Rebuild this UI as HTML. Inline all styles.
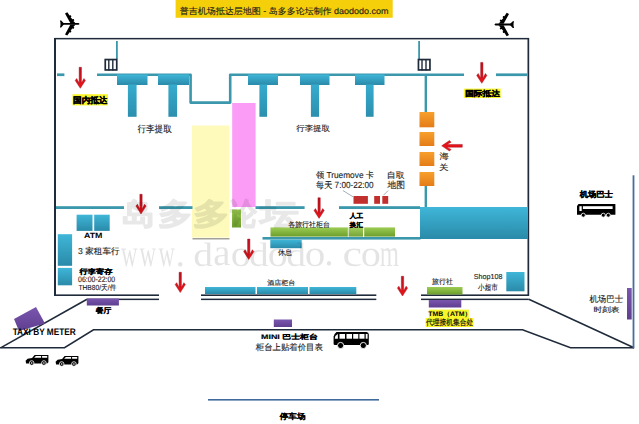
<!DOCTYPE html>
<html><head><meta charset="utf-8"><style>
html,body{margin:0;padding:0;background:#fff;width:639px;height:424px;overflow:hidden}
svg{display:block;font-family:"Liberation Sans",sans-serif;text-rendering:geometricPrecision}
</style></head><body>
<svg width="639" height="424" viewBox="0 0 639 424">
<rect width="639" height="424" fill="#fff"/>
<defs>
<linearGradient id="tealg" x1="0" y1="0" x2="0" y2="1"><stop offset="0" stop-color="#3fb6d8"/><stop offset="1" stop-color="#2a8aa9"/></linearGradient>
<linearGradient id="tealgv" x1="0" y1="0" x2="0" y2="1"><stop offset="0" stop-color="#36acce"/><stop offset="1" stop-color="#2c8fae"/></linearGradient>
<linearGradient id="greeng" x1="0" y1="0" x2="0" y2="1"><stop offset="0" stop-color="#9ccc52"/><stop offset="1" stop-color="#6c9e2c"/></linearGradient>
<linearGradient id="orangeg" x1="0" y1="0" x2="0" y2="1"><stop offset="0" stop-color="#f7a02c"/><stop offset="1" stop-color="#e47c18"/></linearGradient>
<linearGradient id="purpleg" x1="0" y1="0" x2="0" y2="1"><stop offset="0" stop-color="#7a56ae"/><stop offset="1" stop-color="#5f3f90"/></linearGradient>
<linearGradient id="redg" x1="0" y1="0" x2="0" y2="1"><stop offset="0" stop-color="#b81020"/><stop offset="1" stop-color="#ec1418"/></linearGradient>
<filter id="soft" x="-10%" y="-30%" width="120%" height="160%"><feGaussianBlur stdDeviation="0.4"/></filter>
</defs>
<rect x="192" y="125.5" width="37.4" height="112" fill="#fdfabb"/>
<rect x="192.5" y="238.2" width="37" height="1.2" fill="#8a8a80"/>
<rect x="232.2" y="103" width="23.4" height="104" fill="#fb9cf6"/>
<rect x="232" y="209.5" width="9" height="18" fill="url(#greeng)"/>
<rect x="54.3" y="37.9" width="474.7" height="1.5" fill="#1f2b3a"/>
<rect x="54" y="38" width="2" height="258" fill="#1f2b3a"/>
<rect x="527.5" y="38" width="1.7" height="258" fill="#1f2b3a"/>
<rect x="54" y="294.4" width="105" height="1.6" fill="#1f2b3a"/>
<rect x="201" y="294.4" width="175.3" height="1.6" fill="#1f2b3a"/>
<rect x="421" y="294.4" width="108" height="1.6" fill="#1f2b3a"/>
<rect x="87" y="298.6" width="72" height="1.5" fill="#1f2b3a"/>
<rect x="201" y="298.6" width="175.3" height="1.5" fill="#1f2b3a"/>
<rect x="421" y="298.6" width="107.79999999999995" height="1.5" fill="#1f2b3a"/>
<polyline points="1,347.6 87,299.3" stroke="#1f2b3a" stroke-width="1.6" fill="none"/>
<polyline points="528.8,299.3 634,347.8" stroke="#1f2b3a" stroke-width="1.6" fill="none"/>
<polyline points="0,347.7 64.5,347.7 93.5,329.7 522.5,329.7 570.5,347.8 634,347.8" stroke="#1f2b3a" stroke-width="1.6" fill="none"/>
<rect x="632.6" y="175.3" width="1.8" height="173" fill="#4a6b9c"/>
<rect x="208" y="399" width="171" height="1.6" fill="#3f6b9c"/>
<rect x="57" y="73.4" width="7.4" height="2.7" fill="#3b98ac"/>
<polyline points="97,74.7 190.6,74.7 190.6,102.6 230.2,102.6 230.2,74.7 464,74.7" stroke="#3b98ac" stroke-width="2.6" fill="none" stroke-linejoin="round"/>
<rect x="496" y="73.4" width="31.5" height="2.7" fill="#3b98ac"/>
<rect x="116" y="41" width="1.8" height="18" fill="#3b98ac"/>
<rect x="418.2" y="41" width="1.8" height="18" fill="#3b98ac"/>
<rect x="424.6" y="76" width="2.4" height="36" fill="#3b98ac"/>
<rect x="424.6" y="186" width="2.4" height="21" fill="#3b98ac"/>
<rect x="56" y="206.2" width="68" height="2.8" fill="#3b98ac"/>
<rect x="159" y="206.2" width="33.5" height="2.8" fill="#3b98ac"/>
<rect x="255.5" y="206.2" width="49.10000000000002" height="2.8" fill="#3b98ac"/>
<rect x="339" y="206.2" width="81" height="2.8" fill="#3b98ac"/>
<rect x="262.5" y="237" width="158" height="2.6" fill="#3b98ac"/>
<rect x="117" y="74.5" width="30.5" height="10.5" fill="url(#tealg)"/><rect x="127.9" y="84.5" width="8.7" height="32.3" fill="url(#tealgv)"/>
<rect x="158" y="74.5" width="31" height="10.5" fill="url(#tealg)"/><rect x="168.4" y="84.5" width="8.7" height="32.3" fill="url(#tealgv)"/>
<rect x="248" y="74.5" width="30" height="10.5" fill="url(#tealg)"/><rect x="259.4" y="84.5" width="7.7" height="32.3" fill="url(#tealgv)"/>
<rect x="300" y="74.5" width="29.5" height="10.5" fill="url(#tealg)"/><rect x="310.9" y="84.5" width="8.2" height="32.3" fill="url(#tealgv)"/>
<rect x="355" y="74.5" width="29.5" height="10.5" fill="url(#tealg)"/><rect x="365.9" y="84.5" width="7.7" height="32.3" fill="url(#tealgv)"/>
<rect x="105.25" y="59.55" width="11.5" height="10.4" fill="none" stroke="#1e2a3a" stroke-width="1.7"/>
<rect x="108.10000000000001" y="59" width="1.4" height="11.5" fill="#1e2a3a"/>
<rect x="112.10000000000001" y="59" width="1.4" height="11.5" fill="#1e2a3a"/>
<rect x="418.45000000000005" y="59.55" width="11.5" height="10.4" fill="none" stroke="#1e2a3a" stroke-width="1.7"/>
<rect x="421.3" y="59" width="1.4" height="11.5" fill="#1e2a3a"/>
<rect x="425.3" y="59" width="1.4" height="11.5" fill="#1e2a3a"/>
<rect x="419.5" y="112" width="14.8" height="15.299999999999997" fill="url(#orangeg)"/>
<rect x="419.5" y="132" width="14.8" height="14" fill="url(#orangeg)"/>
<rect x="419.5" y="152" width="14.8" height="14" fill="url(#orangeg)"/>
<rect x="419.5" y="172" width="14.8" height="14" fill="url(#orangeg)"/>
<rect x="420" y="207" width="108" height="32" fill="url(#tealg)"/>
<rect x="270.5" y="227.4" width="77.30000000000001" height="9.2" fill="url(#greeng)"/>
<rect x="348.6" y="227.4" width="14.399999999999977" height="9.2" fill="url(#greeng)"/>
<rect x="364.2" y="227.4" width="30.80000000000001" height="9.2" fill="url(#greeng)"/>
<rect x="348.6" y="227.4" width="14.4" height="9.2" fill="#fff" opacity="0.06"/>
<rect x="270.3" y="239.7" width="31.4" height="8.5" fill="url(#tealg)"/>
<rect x="76.6" y="214.7" width="15.9" height="16.2" fill="url(#tealg)"/>
<rect x="94.2" y="214.7" width="15.5" height="16.2" fill="url(#tealg)"/>
<rect x="57.8" y="234.2" width="14.3" height="31.6" fill="url(#tealg)"/>
<rect x="57.8" y="267.9" width="14.3" height="17.4" fill="url(#tealg)"/>
<rect x="205" y="287" width="50.5" height="7" fill="url(#tealg)"/>
<rect x="257" y="287" width="51" height="7" fill="url(#tealg)"/>
<rect x="309.5" y="287" width="46.80000000000001" height="7" fill="url(#tealg)"/>
<rect x="427" y="287" width="35.5" height="7.5" fill="url(#greeng)"/>
<rect x="428.8" y="300" width="32.5" height="7.5" fill="url(#purpleg)"/>
<rect x="506.3" y="272" width="18.2" height="19.3" fill="url(#tealg)"/>
<rect x="86.8" y="298.5" width="32.1" height="7" fill="url(#purpleg)"/>
<rect x="273.8" y="319.5" width="18.2" height="7.5" fill="url(#purpleg)"/>
<rect x="627" y="288" width="4.7" height="31.5" fill="url(#purpleg)"/>
<polygon points="14,319 36,307 45,323.5 19,331" fill="url(#purpleg)"/>
<rect x="353.5" y="196" width="14.4" height="7.8" fill="#c2302e"/>
<rect x="374.2" y="196" width="5.8" height="7.8" fill="#c2302e"/>
<rect x="382.3" y="196" width="5.9" height="7.8" fill="#c2302e"/>
<line x1="342.9" y1="190.5" x2="353" y2="196.8" stroke="#8a9aa8" stroke-width="0.8"/>
<line x1="388.2" y1="190.5" x2="383.5" y2="195.2" stroke="#8a9aa8" stroke-width="0.8"/>
<g fill="#f8f42a" filter="url(#soft)">
<rect x="72.5" y="94.2" width="35.5" height="11.2"/>
<rect x="464.1" y="88.6" width="36.6" height="9.4"/>
<rect x="428.9" y="309.6" width="39.9" height="8.6"/>
<rect x="425.6" y="318" width="47.9" height="9"/>
</g>
<rect x="175.6" y="0" width="217.1" height="17.8" fill="#f5cf0a"/>
<path d="M79.15,67.30 L81.45,67.30 L81.45,83.00 L83.90,78.50 L85.40,80.40 L80.30,88.30 L75.20,80.40 L76.70,78.50 L79.15,83.00 Z" fill="url(#redg)" stroke="#a00e18" stroke-width="0.45"/>
<path d="M480.65,62.40 L482.95,62.40 L482.95,78.00 L485.40,73.50 L486.90,75.40 L481.80,83.30 L476.70,75.40 L478.20,73.50 L480.65,78.00 Z" fill="url(#redg)" stroke="#a00e18" stroke-width="0.45"/>
<path d="M139.85,194.30 L142.15,194.30 L142.15,208.70 L144.60,204.20 L146.10,206.10 L141.00,214.00 L135.90,206.10 L137.40,204.20 L139.85,208.70 Z" fill="url(#redg)" stroke="#a00e18" stroke-width="0.45"/>
<path d="M317.95,197.80 L320.25,197.80 L320.25,213.10 L322.70,208.60 L324.20,210.50 L319.10,218.40 L314.00,210.50 L315.50,208.60 L317.95,213.10 Z" fill="url(#redg)" stroke="#a00e18" stroke-width="0.45"/>
<path d="M247.60,239.05 L249.90,239.05 L249.90,254.20 L252.35,249.70 L253.85,251.60 L248.75,259.50 L243.65,251.60 L245.15,249.70 L247.60,254.20 Z" fill="url(#redg)" stroke="#a00e18" stroke-width="0.45"/>
<path d="M179.10,272.30 L181.40,272.30 L181.40,287.20 L183.85,282.70 L185.35,284.60 L180.25,292.50 L175.15,284.60 L176.65,282.70 L179.10,287.20 Z" fill="url(#redg)" stroke="#a00e18" stroke-width="0.45"/>
<path d="M401.35,276.30 L403.65,276.30 L403.65,290.70 L406.10,286.20 L407.60,288.10 L402.50,296.00 L397.40,288.10 L398.90,286.20 L401.35,290.70 Z" fill="url(#redg)" stroke="#a00e18" stroke-width="0.45"/>
<path d="M462.30,144.45 L462.30,147.15 L446.70,147.15 L451.10,149.40 L449.50,151.10 L441.70,145.80 L449.50,140.50 L451.10,142.20 L446.70,144.45 Z" fill="#e8121a" stroke="#a00e18" stroke-width="0.45"/>
<g fill="#000"><path d="M60.6,23.0 L78.6,23.0 L79.6,23.9 L78.6,24.8 L60.6,24.8 Z"/><path d="M59.9,20.6 L61.2,20.6 L63.8,23.2 L63.8,24.6 L61.2,27.4 L59.9,27.4 L60.8,23.9 Z"/><path d="M65.0,13.4 L67.3,12.2 L69.6,15.6 L70.9,15.3 L71.4,16.8 L70.6,17.3 L72.4,19.3 L73.8,19.0 L74.3,20.5 L73.4,20.9 L75.6,23.2 L70.4,23.2 Z"/><path d="M65.0,34.4 L67.3,35.6 L69.6,32.2 L70.9,32.5 L71.4,31.0 L70.6,30.5 L72.4,28.5 L73.8,28.8 L74.3,27.3 L73.4,26.9 L75.6,24.6 L70.4,24.6 Z"/></g>
<g transform="translate(574,0.6) scale(-1,1)"><g fill="#000"><path d="M60.6,23.0 L78.6,23.0 L79.6,23.9 L78.6,24.8 L60.6,24.8 Z"/><path d="M59.9,20.6 L61.2,20.6 L63.8,23.2 L63.8,24.6 L61.2,27.4 L59.9,27.4 L60.8,23.9 Z"/><path d="M65.0,13.4 L67.3,12.2 L69.6,15.6 L70.9,15.3 L71.4,16.8 L70.6,17.3 L72.4,19.3 L73.8,19.0 L74.3,20.5 L73.4,20.9 L75.6,23.2 L70.4,23.2 Z"/><path d="M65.0,34.4 L67.3,35.6 L69.6,32.2 L70.9,32.5 L71.4,31.0 L70.6,30.5 L72.4,28.5 L73.8,28.8 L74.3,27.3 L73.4,26.9 L75.6,24.6 L70.4,24.6 Z"/></g></g>
<g transform="translate(25.6,354.7)"><path d="M0,6 L2,4 L6.5,3.2 L9,0.4 L22.8,0.4 L22.8,7.5 L21.5,8.8 L0.5,8.8 Z" fill="#000"/><path d="M8.5,3 L10.3,1.4 L15.5,1.4 L15.5,3 Z M16.5,1.4 L21.6,1.4 L21.6,3 L16.5,3 Z" fill="#fff"/><circle cx="6.1" cy="8.3" r="2.3" fill="#000" stroke="#fff" stroke-width="0.8"/><circle cx="18.3" cy="8.3" r="2.3" fill="#000" stroke="#fff" stroke-width="0.8"/><circle cx="6.1" cy="8.3" r="0.8" fill="#fff"/><circle cx="18.3" cy="8.3" r="0.8" fill="#fff"/></g>
<g transform="translate(55.6,355.7)"><path d="M0,6 L2,4 L6.5,3.2 L9,0.4 L22.8,0.4 L22.8,7.5 L21.5,8.8 L0.5,8.8 Z" fill="#000"/><path d="M8.5,3 L10.3,1.4 L15.5,1.4 L15.5,3 Z M16.5,1.4 L21.6,1.4 L21.6,3 L16.5,3 Z" fill="#fff"/><circle cx="6.1" cy="8.3" r="2.3" fill="#000" stroke="#fff" stroke-width="0.8"/><circle cx="18.3" cy="8.3" r="2.3" fill="#000" stroke="#fff" stroke-width="0.8"/><circle cx="6.1" cy="8.3" r="0.8" fill="#fff"/><circle cx="18.3" cy="8.3" r="0.8" fill="#fff"/></g>
<g><path d="M336.5,332 L366.5,332 Q368.8,332 368.8,334.5 L368.8,344 Q368.8,345 367.5,345 L334.8,345 Q333.6,345 333.6,343.5 L333.6,336.5 Q334,334 336.5,332 Z" fill="#000"/><path d="M334.8,338.7 L335.3,336 L337.9,334 L337.9,338.7 Z" fill="#fff"/><rect x="339.5" y="334" width="5.5" height="4.7" fill="#fff"/><rect x="346.5" y="334" width="5.5" height="4.7" fill="#fff"/><rect x="353.2" y="334" width="5.1" height="4.7" fill="#fff"/><rect x="359.4" y="334" width="5.1" height="4.7" fill="#fff"/><rect x="365.7" y="334" width="1.9" height="4.7" fill="#fff"/><circle cx="340.6" cy="345.5" r="3.1" fill="#000" stroke="#fff" stroke-width="0.9"/><circle cx="363.3" cy="345.5" r="3.1" fill="#000" stroke="#fff" stroke-width="0.9"/></g>
<g><path d="M578.5,203.9 L615.4,203.9 L615.4,214.8 L577,214.8 L577,206 Z" fill="#000"/><rect x="582.9" y="206.2" width="29.7" height="2.8" fill="#fff"/><rect x="579.4" y="206.2" width="2.3" height="4.8" fill="#fff"/><circle cx="583.3" cy="215.2" r="2" fill="#000" stroke="#fff" stroke-width="0.8"/><circle cx="603.3" cy="215.2" r="2" fill="#000" stroke="#fff" stroke-width="0.8"/><circle cx="608.3" cy="215.2" r="2" fill="#000" stroke="#fff" stroke-width="0.8"/></g>
<g font-family="Liberation Sans, sans-serif"><text id="title" x="179.76" y="13.98" font-size="8.73" font-weight="normal" fill="#1c1c1c" stroke="#1c1c1c" stroke-width="0.12" textLength="208.86" lengthAdjust="spacingAndGlyphs">普吉机场抵达层地图 - 岛多多论坛制作 daododo.com</text>
<text id="gn" x="73.13" y="102.89" font-size="8.41" font-weight="bold" fill="#000" stroke="#000" stroke-width="0.3" textLength="34.27" lengthAdjust="spacingAndGlyphs">国内抵达</text>
<text id="gj" x="465.15" y="95.93" font-size="7.57" font-weight="bold" fill="#000" stroke="#000" stroke-width="0.3" textLength="34.76" lengthAdjust="spacingAndGlyphs">国际抵达</text>
<text id="xl1" x="137.38" y="131.55" font-size="9.26" font-weight="normal" fill="#1c1c1c" stroke="#1c1c1c" stroke-width="0.12" textLength="34.46" lengthAdjust="spacingAndGlyphs">行李提取</text>
<text id="xl2" x="296.20" y="130.72" font-size="7.74" font-weight="normal" fill="#1c1c1c" stroke="#1c1c1c" stroke-width="0.12" textLength="33.80" lengthAdjust="spacingAndGlyphs">行李提取</text>
<text id="hai" x="439.53" y="158.83" font-size="8.41" font-weight="normal" fill="#1c1c1c" stroke="#1c1c1c" stroke-width="0.12" textLength="9.36" lengthAdjust="spacingAndGlyphs">海</text>
<text id="guan" x="439.03" y="170.18" font-size="7.81" font-weight="normal" fill="#1c1c1c" stroke="#1c1c1c" stroke-width="0.12" textLength="9.45" lengthAdjust="spacingAndGlyphs">关</text>
<text id="ziqu" x="386.86" y="177.60" font-size="8.17" font-weight="normal" fill="#1c1c1c" stroke="#1c1c1c" stroke-width="0.12" textLength="17.62" lengthAdjust="spacingAndGlyphs">自取</text>
<text id="ditu" x="387.52" y="188.12" font-size="9.13" font-weight="normal" fill="#1c1c1c" stroke="#1c1c1c" stroke-width="0.12" textLength="17.53" lengthAdjust="spacingAndGlyphs">地图</text>
<text id="true" x="315.88" y="177.68" font-size="8.72" font-weight="normal" fill="#1c1c1c" stroke="#1c1c1c" stroke-width="0.12" textLength="58.23" lengthAdjust="spacingAndGlyphs">领 Truemove 卡</text>
<text id="meitian" x="316.03" y="187.73" font-size="8.91" font-weight="normal" fill="#1c1c1c" stroke="#1c1c1c" stroke-width="0.12" textLength="57.60" lengthAdjust="spacingAndGlyphs">每天 7:00-22:00</text>
<text id="rengong" x="349.80" y="218.28" font-size="6.48" font-weight="bold" fill="#000" stroke="#000" stroke-width="0.3" textLength="13.28" lengthAdjust="spacingAndGlyphs">人工</text>
<text id="huanhui" x="349.86" y="226.70" font-size="6.33" font-weight="bold" fill="#000" stroke="#000" stroke-width="0.3" textLength="13.08" lengthAdjust="spacingAndGlyphs">换汇</text>
<text id="lvxs" x="288.25" y="226.57" font-size="7.35" font-weight="normal" fill="#1c1c1c" stroke="#1c1c1c" stroke-width="0.12" textLength="41.62" lengthAdjust="spacingAndGlyphs">各旅行社柜台</text>
<text id="atm" x="83.99" y="237.67" font-size="7.52" font-weight="bold" fill="#000" textLength="18.50" lengthAdjust="spacingAndGlyphs">ATM</text>
<text id="zuche" x="78.04" y="253.81" font-size="8.62" font-weight="normal" fill="#1c1c1c" stroke="#1c1c1c" stroke-width="0.12" textLength="41.66" lengthAdjust="spacingAndGlyphs">3 家租车行</text>
<text id="jicun" x="79.42" y="273.84" font-size="7.04" font-weight="bold" fill="#000" stroke="#000" stroke-width="0.2" textLength="32.99" lengthAdjust="spacingAndGlyphs">行李寄存</text>
<text id="hours" x="78.08" y="282.36" font-size="7.89" font-weight="normal" fill="#1c1c1c" stroke="#1c1c1c" stroke-width="0.12" textLength="37.10" lengthAdjust="spacingAndGlyphs">06:00-22:00</text>
<text id="thb" x="78.40" y="290.32" font-size="7.29" font-weight="normal" fill="#1c1c1c" stroke="#1c1c1c" stroke-width="0.12" textLength="37.98" lengthAdjust="spacingAndGlyphs">THB80/天/件</text>
<text id="xiuxi" x="277.99" y="255.25" font-size="7.32" font-weight="normal" fill="#1c1c1c" stroke="#1c1c1c" stroke-width="0.12" textLength="14.16" lengthAdjust="spacingAndGlyphs">休息</text>
<text id="jiudian" x="267.16" y="284.56" font-size="6.75" font-weight="normal" fill="#1c1c1c" stroke="#1c1c1c" stroke-width="0.12" textLength="28.04" lengthAdjust="spacingAndGlyphs">酒店柜台</text>
<text id="lvxingshe" x="432.10" y="284.05" font-size="7.25" font-weight="normal" fill="#1c1c1c" stroke="#1c1c1c" stroke-width="0.12" textLength="20.75" lengthAdjust="spacingAndGlyphs">旅行社</text>
<text id="shop" x="473.78" y="278.86" font-size="7.22" font-weight="normal" fill="#1c1c1c" stroke="#1c1c1c" stroke-width="0.12" textLength="28.78" lengthAdjust="spacingAndGlyphs">Shop108</text>
<text id="chaoshi" x="478.08" y="289.95" font-size="7.94" font-weight="normal" fill="#1c1c1c" stroke="#1c1c1c" stroke-width="0.12" textLength="19.75" lengthAdjust="spacingAndGlyphs">小超市</text>
<text id="tmb" x="428.25" y="315.62" font-size="6.49" font-weight="bold" fill="#000" textLength="43.23" lengthAdjust="spacingAndGlyphs">TMB（ATM）</text>
<text id="daili" x="426.00" y="324.84" font-size="7.88" font-weight="normal" fill="#111" stroke="#111" stroke-width="0.2" textLength="47.17" lengthAdjust="spacingAndGlyphs">代理接机集合处</text>
<text id="jcbs" x="579.65" y="197.31" font-size="7.87" font-weight="bold" fill="#000" stroke="#000" stroke-width="0.3" textLength="33.12" lengthAdjust="spacingAndGlyphs">机场巴士</text>
<text id="jcbs2" x="589.40" y="302.02" font-size="8.68" font-weight="normal" fill="#1c1c1c" stroke="#1c1c1c" stroke-width="0.12" textLength="33.65" lengthAdjust="spacingAndGlyphs">机场巴士</text>
<text id="skb" x="593.44" y="312.23" font-size="7.16" font-weight="normal" fill="#1c1c1c" stroke="#1c1c1c" stroke-width="0.12" textLength="26.07" lengthAdjust="spacingAndGlyphs">时刻表</text>
<text id="canting" x="95.78" y="312.73" font-size="7.30" font-weight="bold" fill="#000" stroke="#000" stroke-width="0.12" textLength="15.67" lengthAdjust="spacingAndGlyphs">餐厅</text>
<text id="taxi" x="12.66" y="334.92" font-size="9.52" font-weight="bold" fill="#000" textLength="63.09" lengthAdjust="spacingAndGlyphs">TAXI BY METER</text>
<text id="mini" x="261.07" y="338.61" font-size="6.59" font-weight="bold" fill="#000" stroke="#000" stroke-width="0.15" textLength="56.72" lengthAdjust="spacingAndGlyphs">MINI 巴士柜台</text>
<text id="guitai" x="255.75" y="349.62" font-size="8.45" font-weight="normal" fill="#1c1c1c" stroke="#1c1c1c" stroke-width="0.12" textLength="67.14" lengthAdjust="spacingAndGlyphs">柜台上贴着价目表</text>
<text id="tingche" x="279.80" y="418.96" font-size="7.75" font-weight="bold" fill="#000" stroke="#000" stroke-width="0.12" textLength="25.69" lengthAdjust="spacingAndGlyphs">停车场</text></g>
<g fill="#000" opacity="0.085"><text id="wm0" x="121.37" y="223.84" font-size="29.75" font-weight="900" font-family="Liberation Sans" stroke="#000" stroke-width="1.3" stroke-linejoin="round" textLength="33.75" lengthAdjust="spacingAndGlyphs">岛</text><text id="wm1" x="157.97" y="223.51" font-size="29.79" font-weight="900" font-family="Liberation Sans" stroke="#000" stroke-width="1.3" stroke-linejoin="round" textLength="34.46" lengthAdjust="spacingAndGlyphs">多</text><text id="wm2" x="192.90" y="223.60" font-size="29.63" font-weight="900" font-family="Liberation Sans" stroke="#000" stroke-width="1.3" stroke-linejoin="round" textLength="36.49" lengthAdjust="spacingAndGlyphs">多</text><text id="wm3" x="230.47" y="224.31" font-size="30.25" font-weight="900" font-family="Liberation Sans" stroke="#000" stroke-width="1.3" stroke-linejoin="round" textLength="26.65" lengthAdjust="spacingAndGlyphs">论</text><text id="wm4" x="260.07" y="223.71" font-size="29.67" font-weight="900" font-family="Liberation Sans" stroke="#000" stroke-width="1.3" stroke-linejoin="round" textLength="38.66" lengthAdjust="spacingAndGlyphs">坛</text></g><g fill="#000" opacity="0.1"><text id="ws0" x="121.04" y="265.54" font-size="38.06" font-weight="normal" font-family="Liberation Serif" textLength="16.46" lengthAdjust="spacingAndGlyphs">w</text><text id="ws1" x="139.60" y="266.11" font-size="38.15" font-weight="normal" font-family="Liberation Serif" textLength="16.52" lengthAdjust="spacingAndGlyphs">w</text><text id="ws2" x="158.48" y="265.58" font-size="38.20" font-weight="normal" font-family="Liberation Serif" textLength="16.29" lengthAdjust="spacingAndGlyphs">w</text><text id="ws3" x="175.53" y="265.75" font-size="38.00" font-weight="normal" font-family="Liberation Serif">.</text><text id="ws4" x="193.36" y="265.96" font-size="33.87" font-weight="normal" font-family="Liberation Serif" textLength="19.76" lengthAdjust="spacingAndGlyphs">d</text><text id="ws5" x="213.39" y="265.28" font-size="38.04" font-weight="normal" font-family="Liberation Serif" textLength="17.20" lengthAdjust="spacingAndGlyphs">a</text><text id="ws6" x="230.73" y="265.64" font-size="37.16" font-weight="normal" font-family="Liberation Serif" textLength="20.20" lengthAdjust="spacingAndGlyphs">o</text><text id="ws7" x="249.11" y="266.22" font-size="33.93" font-weight="normal" font-family="Liberation Serif" textLength="19.76" lengthAdjust="spacingAndGlyphs">d</text><text id="ws8" x="267.88" y="265.67" font-size="37.15" font-weight="normal" font-family="Liberation Serif" textLength="20.19" lengthAdjust="spacingAndGlyphs">o</text><text id="ws9" x="286.36" y="265.96" font-size="33.87" font-weight="normal" font-family="Liberation Serif" textLength="19.76" lengthAdjust="spacingAndGlyphs">d</text><text id="ws10" x="304.85" y="265.62" font-size="37.32" font-weight="normal" font-family="Liberation Serif" textLength="20.65" lengthAdjust="spacingAndGlyphs">o</text><text id="ws11" x="324.21" y="265.46" font-size="38.00" font-weight="normal" font-family="Liberation Serif">.</text><text id="ws12" x="342.55" y="265.68" font-size="37.11" font-weight="normal" font-family="Liberation Serif" textLength="19.56" lengthAdjust="spacingAndGlyphs">c</text><text id="ws13" x="360.88" y="265.67" font-size="37.15" font-weight="normal" font-family="Liberation Serif" textLength="20.19" lengthAdjust="spacingAndGlyphs">o</text><text id="ws14" x="379.78" y="265.88" font-size="38.00" font-weight="normal" font-family="Liberation Serif" textLength="19.27" lengthAdjust="spacingAndGlyphs">m</text></g>
</svg></body></html>
